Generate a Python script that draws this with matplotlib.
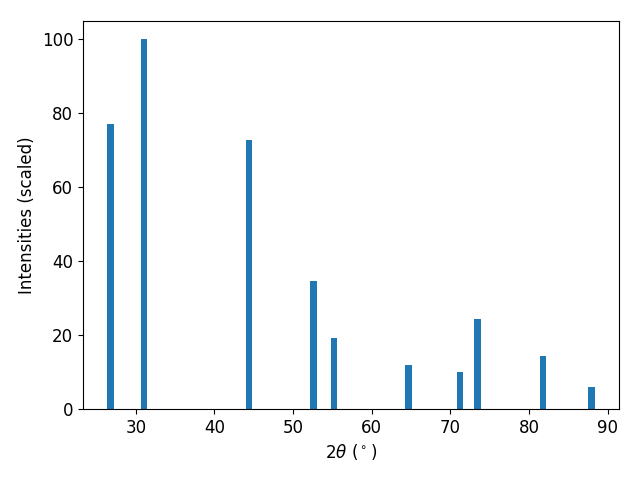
import matplotlib
matplotlib.use("Agg")
import matplotlib.pyplot as plt

two_theta = [26.79, 31.06, 44.41, 52.62, 55.17, 64.64, 71.2, 73.43, 81.75, 87.93]
intensity = [77.2, 100.0, 72.9, 34.7, 19.2, 11.9, 10.0, 24.4, 14.4, 6.0]

fig, ax = plt.subplots(figsize=(6.4, 4.8), dpi=100)
ax.bar(two_theta, intensity, width=0.83, color="#1f77b4")
ax.set_xlabel(r"$2\theta$ ($^\circ$)", fontsize=12)
ax.set_ylabel("Intensities (scaled)", fontsize=12)
ax.tick_params(labelsize=12)
fig.subplots_adjust(left=83/640, right=619/640, top=1-21/480, bottom=1-409/480)
fig.savefig("out.png")
